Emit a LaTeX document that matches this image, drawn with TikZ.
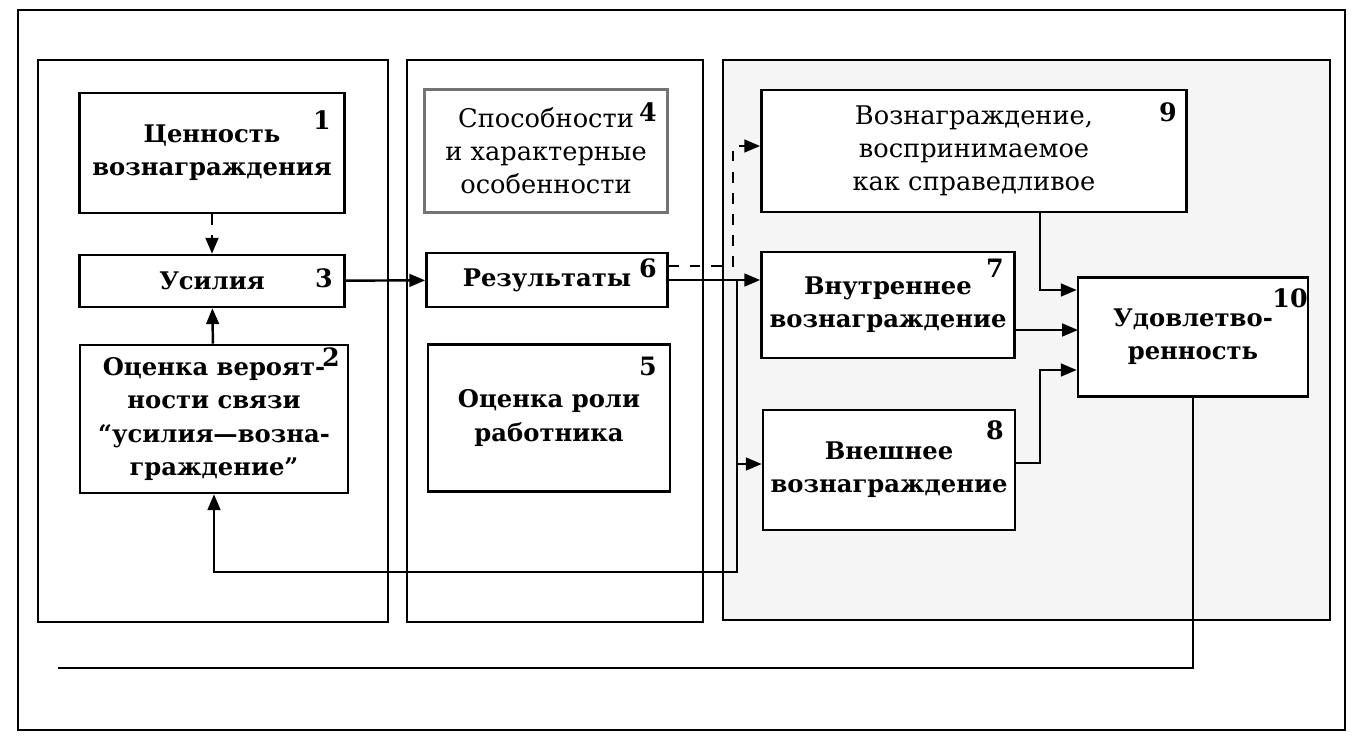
\documentclass[tikz,border=0pt]{standalone}
\usepackage{fontspec}
\setmainfont{DejaVu Serif}
\usetikzlibrary{arrows.meta}
\tikzset{
	box/.style = {draw, fill=white, align=center, inner sep=0pt, font=\bfseries\fontsize{6.9}{9.4}\selectfont},
	lightbox/.style = {box, draw=black!55, font=\fontsize{7.3}{9.4}\selectfont},
	num/.style = {inner sep=0pt, font=\bfseries\fontsize{7.2}{9}\selectfont},
	arr/.style = {-{Triangle[length=4.5pt,width=3.6pt]}}
}
\begin{document}
\begin{tikzpicture}[x=0.01cm, y=-0.01cm, line width=0.7pt]
		\useasboundingbox (0,0) rectangle (1357,748);
		% frames
		\draw[line width=0.5pt] (18,10) rectangle (1345,730);
		\draw (38,60) rectangle (388,622);
		\draw (407,60) rectangle (703,622);
		\draw[fill=black!4] (723,60) rectangle (1330,620);

		% boxes
		\node [box, minimum width=2.65cm, minimum height=1.2cm] (b1) at (212,153) {Ценность\\вознаграждения};
		\node [box, minimum width=2.65cm, minimum height=0.52cm] (b3) at (212,281) {Усилия};
		\node [box, minimum width=2.68cm, minimum height=1.48cm] (b2) at (214,419) {Оценка вероят-\\ности связи\\“усилия—возна-\\граждение”};
		\node [lightbox, minimum width=2.43cm, minimum height=1.23cm] (b4) at (546,151) {Способности\\и характерные\\особенности};
		\node [box, minimum width=2.41cm, minimum height=0.54cm] (b6) at (547,280) {Результаты};
		\node [box, minimum width=2.42cm, minimum height=1.47cm] (b5) at (549,418) {Оценка роли\\работника};
		\node [box, font=\fontsize{7.3}{9.4}\selectfont, minimum width=4.25cm, minimum height=1.22cm] (b9) at (974,151) {Вознаграждение,\\воспринимаемое\\как справедливое};
		\node [box, minimum width=2.53cm, minimum height=1.06cm] (b7) at (888,305) {Внутреннее\\вознаграждение};
		\node [box, minimum width=2.52cm, minimum height=1.2cm] (b8) at (889,470) {Внешнее\\вознаграждение};
		\node [box, minimum width=2.3cm, minimum height=1.19cm] (b10) at (1193,337) {Удовлетво-\\ренность};

		% numbers
		\node [num] (n1) at (322,120) {1};
		\node [num] (n2) at (331,357) {2};
		\node [num] (n3) at (324,278) {3};
		\node [num] (n4) at (648,112) {4};
		\node [num] (n5) at (648,366) {5};
		\node [num] (n6) at (648,268) {6};
		\node [num] (n7) at (995,268) {7};
		\node [num] (n8) at (995,430) {8};
		\node [num] (n9) at (1168,112) {9};
		\node [num] (n10) at (1290,298) {10};

		% connectors
		\coordinate (d6) at (733,266);
		\coordinate (s6) at (737,280);
		\coordinate (s2) at (737,572);
		\coordinate (c9) at (1040,290);
		\coordinate (c7) at (1078,330);
		\coordinate (c8) at (1040,370);
		\coordinate (fb) at (58,668);

		\draw[arr, dashed] (b1) -- (b3);
		\draw[arr] (b2) -- (b3);
		\draw[arr] (b3) -- (b6);
		\draw[arr, dashed] (b6.east |- d6) -- (d6) |- (b9.west |- 0,146);
		\draw[arr] (b6.east) -- (b6.east -| b7.west);
		\draw[arr] (s6) |- (b8.west |- 0,464);
		\draw[arr] (s6) -- (s2) -| (b2.south);
		\draw[arr] (b9.south -| c9) |- (b10.west |- c9);
		\draw[arr] (b7.east |- c7) -- (c7);
		\draw[arr] (b8.east |- 0,463) -| (c8) -- (b10.west |- c8);
		\draw (b10.south) |- (fb);
	\end{tikzpicture}
\end{document}
